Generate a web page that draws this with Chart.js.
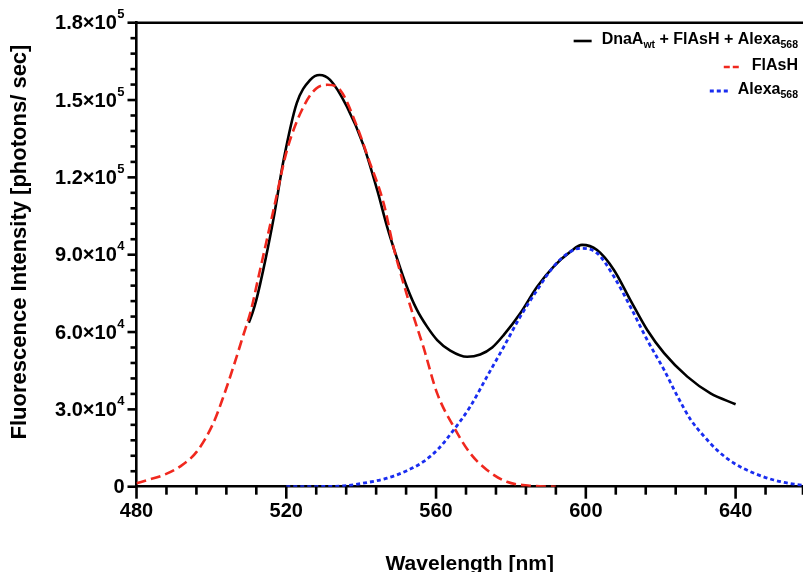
<!DOCTYPE html>
<html>
<head>
<meta charset="utf-8">
<script src="https://cdn.jsdelivr.net/npm/chart.js@4.4.0/dist/chart.umd.min.js"></script>
<style>
  html, body { margin: 0; padding: 0; background: #fff; }
  #wrap { position: relative; width: 803px; height: 572px; overflow: hidden; }
</style>
</head>
<body>
<div id="wrap"><canvas id="c" width="803" height="572"></canvas></div>
<script>
// ---------- data ----------
const blackNm  = [510, 511, 512, 513, 514.5, 516.6, 519.3, 522.8, 526.4, 528.9, 531.7, 536.2, 540.6, 544.3, 546.9, 549.6, 552.2, 554.9, 557.6, 560.3, 563.8, 568.3, 571.8, 575, 578.1, 582.5, 587.0, 591.4, 595.9, 599.0, 603.0, 607.5, 611.9, 616.4, 620.9, 627.1, 633.3, 640];
const blackVal = [63600, 67500, 72500, 78500, 88500, 104000, 126800, 148800, 157800, 159700, 157800, 147400, 132500, 115000, 101000, 88500, 77600, 68600, 62100, 56900, 52800, 50400, 51300, 54000, 58900, 67300, 77600, 85400, 91200, 93800, 91800, 84100, 72400, 60800, 51800, 42700, 36200, 32000];

const flashNm  = [480, 483, 487.2, 491.6, 496.1, 500.5, 503.2, 505.9, 508.4, 510.6, 512.4, 516.6, 520.2, 524.6, 528, 531, 534.4, 538.9, 542, 546, 548.6, 551.3, 554, 556.6, 560.3, 564.7, 569.1, 573.6, 578.9, 585, 592];
const flashVal = [1300, 2600, 4500, 7800, 13600, 24600, 34900, 46600, 58200, 68600, 80200, 107400, 130600, 147400, 154500, 155900, 153900, 139700, 127000, 110000, 93100, 78900, 66000, 54300, 36200, 23300, 13000, 6500, 1900, 400, 0];

const alexaNm  = [520, 530, 535.3, 541.5, 546.9, 552.2, 556.6, 560.5, 564.7, 569.1, 573.6, 578.1, 582.5, 587, 591.4, 595.9, 598.6, 603, 607.5, 611.9, 616.4, 620.9, 624.5, 628, 631.6, 635.2, 639.6, 645, 650.2, 655.6, 660];
const alexaVal = [0, 100, 300, 1600, 3300, 6200, 9700, 14500, 22000, 31000, 42700, 54300, 66000, 76300, 85400, 91200, 92500, 90600, 81500, 69800, 56900, 45300, 35000, 26000, 19500, 14000, 9100, 5200, 2600, 1000, 300];

// legend labels: [text, style] pairs
const seriesLabels = [
  [["DnaA", ""], ["wt", "sub"], [" + FlAsH + Alexa", ""], ["568", "sub"]],
  [["FlAsH", ""]],
  [["Alexa", ""], ["568", "sub"]]
];

// y tick labels (value, mantissa text, exponent)
const yTickValues = [0, 30000, 60000, 90000, 120000, 150000, 180000];
const yTickMant   = ["0", "3.0\u00D710", "6.0\u00D710", "9.0\u00D710", "1.2\u00D710", "1.5\u00D710", "1.8\u00D710"];
const yTickExp    = ["", "4", "4", "4", "5", "5", "5"];
const xTickLabels = [480, 520, 560, 600, 640];

const xTitle = "Wavelength [nm]";
const yTitle = "Fluorescence Intensity [photons/ sec]";

const FONT = "'Liberation Sans', Arial, Helvetica, sans-serif";

function pts(xs, ys) { return xs.map((x, i) => ({ x: x, y: ys[i] })); }

const decor = {
  id: 'decor',
  afterDraw(chart) {
    const ctx = chart.ctx, xs = chart.scales.x, ys = chart.scales.y, ca = chart.chartArea;
    ctx.save();
    ctx.strokeStyle = '#000';
    ctx.lineWidth = 2.6;
    ctx.lineCap = 'butt';
    // top frame line
    ctx.beginPath(); ctx.moveTo(ca.left - 1.3, ca.top); ctx.lineTo(ca.right + 2, ca.top); ctx.stroke();
    // x ticks
    xs.ticks.forEach(t => {
      const px = xs.getPixelForValue(t.value);
      const major = xTickLabels.includes(t.value);
      ctx.beginPath(); ctx.moveTo(px, ca.bottom); ctx.lineTo(px, ca.bottom + (major ? 12 : 8)); ctx.stroke();
    });
    // y ticks
    ys.ticks.forEach(t => {
      const py = ys.getPixelForValue(t.value);
      const major = yTickValues.includes(t.value);
      ctx.beginPath(); ctx.moveTo(ca.left, py); ctx.lineTo(ca.left - (major ? 9 : 6), py); ctx.stroke();
    });
    // y labels with superscript
    ctx.fillStyle = '#000';
    ctx.textBaseline = 'middle';
    yTickValues.forEach((v, i) => {
      const py = ys.getPixelForValue(v) + 1;
      const right = ca.left - 12;
      ctx.font = 'bold 13px ' + FONT;
      const ew = yTickExp[i] ? ctx.measureText(yTickExp[i]).width + 0.5 : 0;
      if (yTickExp[i]) {
        ctx.textAlign = 'right';
        ctx.fillText(yTickExp[i], right, py - 9);
      }
      ctx.font = 'bold 20px ' + FONT;
      ctx.textAlign = 'right';
      ctx.fillText(yTickMant[i], right - ew, py);
    });
    // y axis title
    ctx.save();
    ctx.translate(20, 242);
    ctx.rotate(-Math.PI / 2);
    ctx.font = 'bold 22px ' + FONT;
    ctx.textAlign = 'center';
    ctx.textBaseline = 'middle';
    ctx.fillText(yTitle, 0, 0);
    ctx.restore();
    // legend
    const rightEdge = 798;
    const rowsY = [40, 66, 90];
    chart.data.datasets.forEach((ds, i) => {
      const parts = seriesLabels[i];
      let w = 0;
      parts.forEach(p => { ctx.font = (p[1] === 'sub' ? 'bold 10.5px ' : 'bold 16px ') + FONT; w += ctx.measureText(p[0]).width; });
      let x = rightEdge - w;
      const y = rowsY[i];
      ctx.fillStyle = '#000';
      ctx.textAlign = 'left';
      ctx.textBaseline = 'middle';
      parts.forEach(p => {
        const sub = p[1] === 'sub';
        ctx.font = (sub ? 'bold 10.5px ' : 'bold 16px ') + FONT;
        ctx.fillText(p[0], x, sub ? y + 5 : y);
        x += ctx.measureText(p[0]).width;
      });
      const sx1 = rightEdge - w - 10, sx0 = sx1 - 18;
      ctx.strokeStyle = ds.borderColor;
      ctx.lineWidth = ds.borderWidth;
      ctx.setLineDash(i === 1 ? [6, 3] : (ds.borderDash || []));
      ctx.beginPath(); ctx.moveTo(sx0, y + 1); ctx.lineTo(sx1, y + 1); ctx.stroke();
      ctx.setLineDash([]);
    });
    ctx.restore();
  }
};

new Chart(document.getElementById('c'), {
  type: 'line',
  data: {
    datasets: [
      { label: 'DnaAwt + FlAsH + Alexa568', data: pts(blackNm, blackVal), borderColor: '#000000', borderWidth: 2.6, pointRadius: 0, cubicInterpolationMode: 'monotone', fill: false, order: 3 },
      { label: 'FlAsH', data: pts(flashNm, flashVal), borderColor: 'rgb(240,40,30)', borderWidth: 2.6, borderDash: [10, 5], pointRadius: 0, cubicInterpolationMode: 'monotone', fill: false, order: 2 },
      { label: 'Alexa568', data: pts(alexaNm, alexaVal), borderColor: 'rgb(25,45,240)', borderWidth: 2.8, borderDash: [4, 3], pointRadius: 0, cubicInterpolationMode: 'monotone', fill: false, order: 1 }
    ]
  },
  options: {
    responsive: false,
    animation: false,
    devicePixelRatio: 1,
    layout: { padding: { top: 22.7, right: 0, left: 0, bottom: -5 } },
    plugins: { legend: { display: false }, tooltip: { enabled: false } },
    elements: { line: { borderCapStyle: 'butt' } },
    scales: {
      x: {
        type: 'linear', min: 480, max: 658,
        afterFit(s) { s.height = 90.3; s.paddingRight = 0; s.paddingLeft = 0; },
        border: { display: true, color: '#000', width: 2.6 },
        grid: { display: false, drawOnChartArea: false },
        ticks: {
          stepSize: 8, autoSkip: false, maxRotation: 0, padding: 5,
          color: '#000', font: { family: FONT, size: 20, weight: 'bold' },
          callback: v => xTickLabels.includes(v) ? String(v) : ''
        },
        title: { display: true, text: xTitle, color: '#000', font: { family: FONT, size: 21, weight: 'bold' }, padding: { top: 0, bottom: 0 } }
      },
      y: {
        type: 'linear', min: 0, max: 180000,
        afterFit(s) { s.width = 136.5; s.paddingTop = 0; s.paddingBottom = 0; },
        border: { display: true, color: '#000', width: 2.6 },
        grid: { display: false, drawOnChartArea: false },
        ticks: { stepSize: 6000, display: false },
        title: { display: false, text: yTitle }
      }
    }
  },
  plugins: [decor]
});
</script>
</body>
</html>
